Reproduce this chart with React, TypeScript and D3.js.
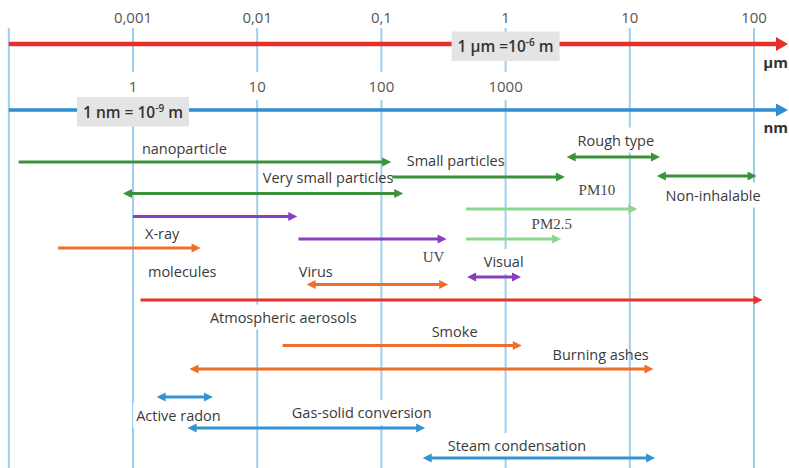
import React, { useEffect, useRef } from 'react';
import * as d3 from 'd3';

// grid lines, in nm
const gridNm = [0.1, 1, 10, 100, 1000, 10000, 100000];
// upper (µm) axis labels sit on 1 nm .. 100000 nm
const micronLabels = ['0,001', '0,01', '0,1', '1', '10', '100'];
// lower (nm) axis labels sit on 1 .. 1000 nm
const nanoLabels = ['1', '10', '100', '1000'];

// size ranges, in nm
const rangeNames = [
  'nanoparticle', 'Small particles', 'Very small particles', 'Rough type', 'Non-inhalable',
  'PM10', 'PM2.5', 'X-ray', 'molecules', 'UV', 'Virus', 'Visual',
  'Atmospheric aerosols', 'Smoke', 'Burning ashes', 'Active radon',
  'Gas-solid conversion', 'Steam condensation',
];
const rangeFrom = [0.12, 122, 0.83, 3100, 16500, 480, 480, 1, 0.25, 21.5, 25, 490, 1.15, 16, 2.85, 1.55, 2.75, 215];
const rangeTo = [120, 3000, 150, 17500, 105000, 11500, 2800, 21, 3.5, 335, 345, 1330, 117000, 1350, 15500, 4.4, 225, 16000];
const rangeKind = [
  'particle', 'particle', 'particle', 'particle', 'particle',
  'pm', 'pm', 'radiation', 'bio', 'radiation', 'bio', 'radiation',
  'aerosol', 'bio', 'bio', 'process', 'process', 'process',
];
const rangeBoth = [false, false, true, true, true, false, false, false, false, false, true, true, false, false, true, true, true, true];

const kindColor: Record<string, string> = {
  particle: '#3b923b',
  pm: '#8fd68f',
  radiation: '#8a3fc0',
  bio: '#ee6f29',
  aerosol: '#e8322c',
  process: '#3593d3',
};

export default function App() {
  const ref = useRef<SVGSVGElement>(null);

  useEffect(() => {
    const svg = d3.select(ref.current);
    svg.selectAll('*').remove();

    const x = d3.scaleLog().domain([1, 100000]).range([133, 754]);
    const top = 28, bottom = 468;
    const redY = 44, blueY = 110;

    // arrow row and label placement (layout only)
    const layout: Record<string, { y: number; at: number; ly: number; serif?: boolean; mask?: boolean }> = {
      'nanoparticle': { y: 162, at: 1.18, ly: 154 },
      'Small particles': { y: 177, at: 160, ly: 166 },
      'Very small particles': { y: 193.5, at: 11.1, ly: 183 },
      'Rough type': { y: 157, at: 3800, ly: 145.5, mask: true },
      'Non-inhalable': { y: 176, at: 19400, ly: 200.5, mask: true },
      'PM10': { y: 209, at: 3870, ly: 195, serif: true },
      'PM2.5': { y: 239, at: 1620, ly: 229, serif: true },
      'X-ray': { y: 216.5, at: 1.25, ly: 238.5 },
      'molecules': { y: 248, at: 1.32, ly: 277 },
      'UV': { y: 239, at: 215, ly: 262, serif: true },
      'Virus': { y: 284.5, at: 21.6, ly: 277 },
      'Visual': { y: 277, at: 667, ly: 267, mask: true },
      'Atmospheric aerosols': { y: 300, at: 4.16, ly: 322.5, mask: true },
      'Smoke': { y: 345.5, at: 254, ly: 337 },
      'Burning ashes': { y: 369, at: 2390, ly: 359.5 },
      'Active radon': { y: 397, at: 1.06, ly: 421, mask: true },
      'Gas-solid conversion': { y: 428, at: 19, ly: 418, mask: true },
      'Steam condensation': { y: 458, at: 342, ly: 451, mask: true },
    };

    const gGrid = svg.append('g');
    const gMask = svg.append('g');
    const gAxes = svg.append('g');
    const gArrows = svg.append('g');
    const gText = svg.append('g');

    gGrid.selectAll('line').data(gridNm).enter().append('line')
      .attr('x1', d => x(d)).attr('x2', d => x(d))
      .attr('y1', top).attr('y2', bottom)
      .attr('stroke', '#9fcfee').attr('stroke-width', 2);

    const head = (g: any, tip: number, y: number, dir: number, len: number, hw: number, color: string) => {
      g.append('path')
        .attr('d', `M${tip},${y}L${tip - dir * len},${y - hw}L${tip - dir * len},${y + hw}Z`)
        .attr('fill', color);
    };

    // main axes
    const axisEnd = 788;
    gAxes.append('line').attr('x1', x(0.1)).attr('x2', axisEnd - 10).attr('y1', redY).attr('y2', redY)
      .attr('stroke', '#e8302a').attr('stroke-width', 4.5);
    head(gAxes, axisEnd, redY, 1, 12, 7, '#e8302a');
    gAxes.append('line').attr('x1', x(0.1)).attr('x2', axisEnd - 10).attr('y1', blueY).attr('y2', blueY)
      .attr('stroke', '#2f8fd0').attr('stroke-width', 3.5);
    head(gAxes, axisEnd, blueY, 1, 12, 6.5, '#2f8fd0');

    gText.selectAll('text.mic').data(micronLabels).enter().append('text')
      .attr('class', 'mic')
      .attr('x', (d, i) => x(Math.pow(10, i))).attr('y', 23)
      .attr('text-anchor', 'middle').attr('font-size', 15).attr('fill', '#555')
      .text(d => d);

    const nanoText = gText.selectAll('text.nan').data(nanoLabels).enter().append('text')
      .attr('class', 'nan')
      .attr('x', (d, i) => x(Math.pow(10, i))).attr('y', 92)
      .attr('text-anchor', 'middle').attr('font-size', 15).attr('fill', '#555')
      .text(d => d);
    nanoText.each(function () {
      const b = (this as SVGTextElement).getBBox();
      gMask.append('rect').attr('x', b.x - 4).attr('y', b.y - 4)
        .attr('width', b.width + 8).attr('height', b.height + 8).attr('fill', '#fff');
    });

    gText.append('text').attr('x', 788).attr('y', 68).attr('text-anchor', 'end')
      .attr('font-size', 15).attr('font-weight', 700).attr('fill', '#333').text('µm');
    gText.append('text').attr('x', 788).attr('y', 133).attr('text-anchor', 'end')
      .attr('font-size', 15).attr('font-weight', 700).attr('fill', '#333').text('nm');

    // range arrows
    rangeNames.forEach((name, i) => {
      const l = layout[name];
      const color = kindColor[rangeKind[i]];
      const x1 = x(rangeFrom[i]), x2 = x(rangeTo[i]);
      const len = 9, hw = 4.5;
      gArrows.append('line')
        .attr('x1', rangeBoth[i] ? x1 + len - 1 : x1).attr('x2', x2 - len + 1)
        .attr('y1', l.y).attr('y2', l.y)
        .attr('stroke', color).attr('stroke-width', 3);
      head(gArrows, x2, l.y, 1, len, hw, color);
      if (rangeBoth[i]) head(gArrows, x1, l.y, -1, len, hw, color);

      const t = gText.append('text')
        .attr('x', x(l.at)).attr('y', l.ly)
        .attr('font-size', l.serif ? 15 : 14.5)
        .attr('font-family', l.serif ? '"Liberation Serif", serif' : null)
        .attr('fill', l.serif ? '#484848' : '#3a3a3a')
        .text(name);
      if (l.mask) {
        const b = (t.node() as SVGTextElement).getBBox();
        gMask.append('rect').attr('x', b.x - 3).attr('y', b.y - 3)
          .attr('width', b.width + 6).attr('height', b.height + 6).attr('fill', '#fff');
      }
    });

    // unit boxes
    const unitBox = (cx: number, cy: number, parts: [string, boolean][]) => {
      const g = svg.append('g');
      const rect = g.append('rect').attr('fill', '#e4e4e4');
      const t = g.append('text').attr('x', cx).attr('y', cy + 6).attr('text-anchor', 'middle')
        .attr('font-size', 15.5).attr('font-weight', 600).attr('fill', '#333');
      parts.forEach(([s, sup]) => {
        const sp = t.append('tspan').text(s);
        if (sup) sp.attr('font-size', 10).attr('dy', -6);
        else sp.attr('dy', 0);
      });
      // reset baseline after superscript
      t.selectAll('tspan').filter((d, i, n) => i > 0 && parts[i - 1][1]).attr('dy', 6);
      const b = (t.node() as SVGTextElement).getBBox();
      rect.attr('x', b.x - 6).attr('y', cy - 14.5).attr('width', b.width + 12).attr('height', 29.5);
    };
    unitBox(x(1000), redY + 2, [['1 µm =10', false], ['-6', true], [' m', false]]);
    unitBox(x(1), blueY + 1.5, [['1 nm = 10', false], ['-9', true], [' m', false]]);
  }, []);

  return (
    <svg ref={ref} width={789} height={468}
      style={{ position: 'absolute', left: 0, top: 0, background: '#fff' }}
      fontFamily='"Open Sans", sans-serif' />
  );
}
